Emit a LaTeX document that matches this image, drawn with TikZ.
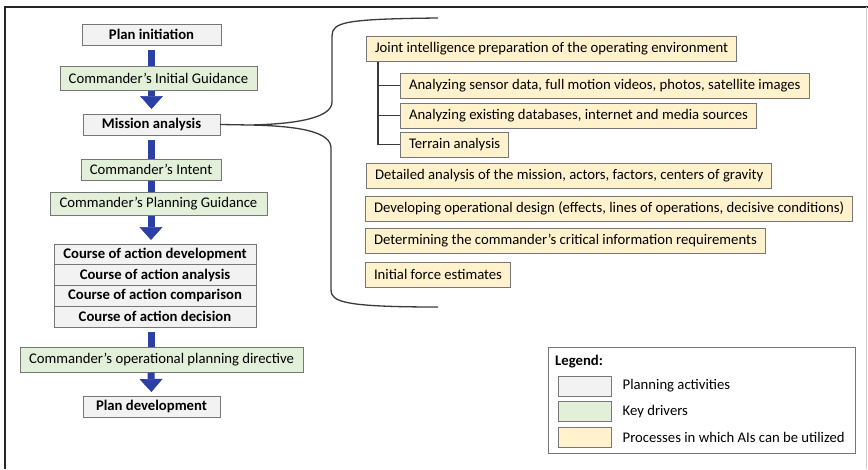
\documentclass[tikz,border=0pt]{standalone}
\usepackage{fontspec}
\setmainfont{Carlito}
\usetikzlibrary{arrows.meta,positioning}
\definecolor{cGray}{HTML}{F2F2F2}
\definecolor{cGreen}{HTML}{E2F0D9}
\definecolor{cYellow}{HTML}{FFF2CC}
\definecolor{cEdge}{HTML}{767676}
\definecolor{cBlue}{HTML}{2C3FA6}
\definecolor{cLine}{HTML}{3A3A3A}
\newcommand{\diafont}{\fontsize{14.7}{17}\selectfont}
\tikzset{
  activity/.style={draw=cEdge,fill=cGray,line width=1pt,inner sep=0pt,outer sep=0pt,
                   font=\diafont\bfseries,minimum height=21pt},
  driver/.style={draw=cEdge,fill=cGreen,line width=1pt,inner sep=0pt,font=\diafont,
                 minimum height=24pt},
  aibox/.style={draw=cEdge,fill=cYellow,line width=1pt,inner xsep=8.5pt,inner ysep=0pt,
                font=\diafont,minimum height=25pt,anchor=west},
  swatch/.style={draw=cEdge,line width=1pt,minimum width=53pt,minimum height=20pt,inner sep=0pt},
  flow/.style={line width=7pt,cBlue},
  flowhead/.style={flow,-{Triangle[width=23pt,length=13pt,line width=0.6pt]}},
  brace/.style={cLine,line width=1.3pt},
  tree/.style={cLine,line width=1.3pt},
}
\begin{document}
\begin{tikzpicture}[x=1pt,y=-1pt]
  \useasboundingbox (0,0) rectangle (868,469);
  % frame
  \draw[line width=2pt,black!85] (4.5,469) -- (4.5,6.5) -- (868,6.5);
  \draw[line width=0.8pt,black!20] (866.5,6.5) -- (866.5,469);

  % planning steps
  \node[activity,minimum width=139pt](plan) at (151.5,34.5){Plan initiation};
  \node[driver,minimum width=197pt](guid) at (158.5,78){Commander’s Initial Guidance};
  \node[activity,minimum width=137pt](mission) at (151.5,124.5){Mission analysis};
  \node[driver,minimum width=140pt,minimum height=21pt](intent) at (151,169.5){Commander’s Intent};
  \node[driver,minimum width=217pt,minimum height=23pt](planguid) at (158.5,203.5){Commander’s Planning Guidance};
  \node[activity,minimum width=202pt,minimum height=20.75pt](coa1) at (155,254.4){Course of action development};
  \node[activity,minimum width=202pt,minimum height=20.75pt,below=0pt of coa1](coa2){Course of action analysis};
  \node[activity,minimum width=202pt,minimum height=20.75pt,below=0pt of coa2](coa3){Course of action comparison};
  \node[activity,minimum width=202pt,minimum height=20.75pt,below=0pt of coa3](coa4){Course of action decision};
  \node[driver,minimum width=283pt,minimum height=25pt](directive) at (161.5,359.5){Commander’s operational planning directive};
  \node[activity,minimum width=137pt](plandev) at (151.5,406.5){Plan development};

  \draw[flow] ([yshift=-5pt]plan.south) -- (plan.south |- guid.north);
  \draw[flowhead,shorten >=5pt] (guid.south -| plan.south) -- (mission.north);
  \draw[flow] ([yshift=-5pt]mission.south) -- (mission.south |- intent.north);
  \draw[flow] (intent.south) -- (intent.south |- planguid.north);
  \draw[flowhead,shorten >=4pt] (planguid.south -| intent.south) -- (intent.south |- coa1.north);
  \draw[flow] ([yshift=-5pt]intent.south |- coa4.south) -- (intent.south |- directive.north);
  \draw[flowhead,shorten >=4pt] (intent.south |- directive.south) -- (plandev.north);

  % mission analysis processes
  \node[aibox](joint) at (366,49){Joint intelligence preparation of the operating environment};
  \node[aibox](sensor) at (400,85.5){Analyzing sensor data, full motion videos, photos, satellite images};
  \node[aibox](dbase) at (400,115.5){Analyzing existing databases, internet and media sources};
  \node[aibox](terrain) at (400,144.5){Terrain analysis};
  \node[aibox](detail) at (366,175.5){Detailed analysis of the mission, actors, factors, centers of gravity};
  \node[aibox](design) at (365,208.5){Developing operational design (effects, lines of operations, decisive conditions)};
  \node[aibox](ccir) at (365,241){Determining the commander’s critical information requirements};
  \node[aibox](force) at (365,274.5){Initial force estimates};

  \draw[tree] ([xshift=12pt]joint.south west) |- (terrain.west);
  \draw[tree] ([xshift=12pt]joint.south west |- sensor.west) -- (sensor.west);
  \draw[tree] ([xshift=12pt]joint.south west |- dbase.west) -- (dbase.west);

  % brace
  \coordinate (tip) at (250,125);
  \draw[brace] (mission.east) -- (tip);
  \draw[brace] (438,18) .. controls (345,19) and (332,22) .. (332,36) -- (332,102)
    .. controls (332,117) and (300,124) .. (tip)
    .. controls (300,126) and (331,132) .. (331,148) -- (331,290)
    .. controls (331,302) and (345,307) .. (438,307);

  % legend
  \node[draw=cEdge,line width=1pt,minimum width=307pt,minimum height=106pt](legend) at (701.5,400){};
  \node[font=\diafont\bfseries,anchor=west,inner sep=0pt](legtitle) at (555,362){Legend:};
  \node[swatch,fill=cGray](sw1) at (584.5,386){};
  \node[swatch,fill=cGreen](sw2) at (584.5,411.5){};
  \node[swatch,fill=cYellow](sw3) at (584.5,437){};
  \node[font=\diafont,inner sep=0pt,right=11pt of sw1](lab1){Planning activities};
  \node[font=\diafont,inner sep=0pt,right=11pt of sw2](lab2){Key drivers};
  \node[font=\diafont,inner sep=0pt,right=11pt of sw3](lab3){Processes in which AIs can be utilized};
\end{tikzpicture}
\end{document}
